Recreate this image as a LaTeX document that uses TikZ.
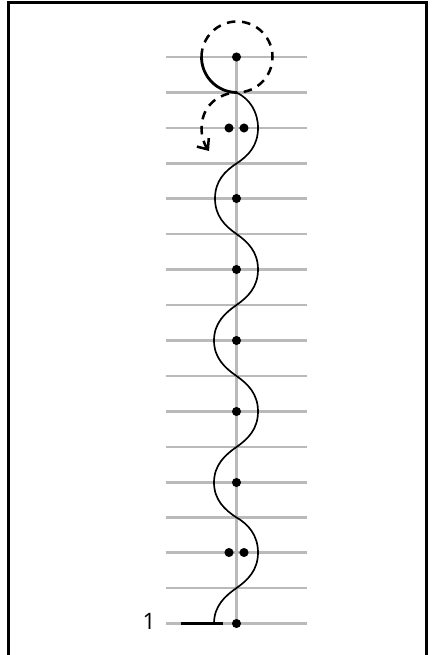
\documentclass[tikz,border=0pt]{standalone}
\usepackage{fontspec}
\setmainfont{Open Sans}
\usetikzlibrary{arrows.meta}
\tikzset{
  grid/.style={draw=black!27,line width=2pt},
  frame/.style={draw=black,line width=2.2pt},
  curve/.style={draw=black,line width=1.25pt},
  thick curve/.style={draw=black,line width=2.1pt},
  dash curve/.style={draw=black,line width=1.9pt,dash pattern=on 6.4pt off 5pt},
  dot/.style={circle,fill=black,inner sep=0pt,minimum size=6.8pt},
}
\begin{document}
\begin{tikzpicture}[x=0.75pt,y=-0.75pt]
\useasboundingbox (0,0) rectangle (433,655);
\fill[white] (0,0) rectangle (433,655);
\draw[frame] (8.7,660) -- (8.7,2.5) -- (426.7,2.5) -- (426.7,660);
\foreach \y in {57,92.5,128,163.5,198.5,234,269.5,305,340.5,376,411.5,447,482.5,517.5,552.5,588,623.5}
  \draw[grid] (166,\y) -- (307,\y);
\draw[grid] (236.5,57) -- (236.5,623.5);
% main wavy line
\draw[curve] (214,623.5)
  .. controls (214,606) and (225,596) .. (236.5,588)
  .. controls (248,580) and (258,570) .. (258,552.5)
  .. controls (258,535) and (248,524) .. (236.5,517.5)
  .. controls (225,510) and (214,500) .. (214,482.5)
  .. controls (214,465) and (225,455) .. (236.5,447)
  .. controls (248,439) and (258,429) .. (258,411.5)
  .. controls (258,394) and (248,384) .. (236.5,376)
  .. controls (225,368) and (214,358) .. (214,340.5)
  .. controls (214,323) and (225,313) .. (236.5,305)
  .. controls (248,297) and (258,287) .. (258,269.5)
  .. controls (258,252) and (248,242) .. (236.5,234)
  .. controls (225,226) and (215,216) .. (215,198.5)
  .. controls (215,181) and (225,171) .. (236.5,163.5)
  .. controls (248,156) and (258,146) .. (258,128)
  .. controls (258,112) and (250,99) .. (236.5,92.5);
% thick parts
\draw[thick curve] (201.5,57) arc[start angle=180,end angle=90,radius=35.5] ;
\draw[thick curve] (181,623.5) -- (223,623.5);
% dashed circle and arrow
\draw[dash curve] (201.5,57) arc[start angle=180,delta angle=270,radius=35.5];
\draw[dash curve,-{Straight Barb[length=6.5pt,width=11pt]}] (229,93.5)
  .. controls (212,98) and (202,110) .. (201.5,128)
  .. controls (201.5,136) and (204,144) .. (209,151);
% dots
\foreach \n/\x/\y in {a/236.5/57,b/229/128,c/244/128,d/236.5/198.5,e/236.5/269.5,f/236.5/340.5,g/236.5/411.5,h/236.5/482.5,i/229/552.5,j/244/552.5,k/236.5/623.5}
  \node[dot] (\n) at (\x,\y) {};
\node[font=\fontsize{17pt}{19pt}\selectfont,inner sep=0pt] (one) at (149,621) {1};
\end{tikzpicture}
\end{document}
